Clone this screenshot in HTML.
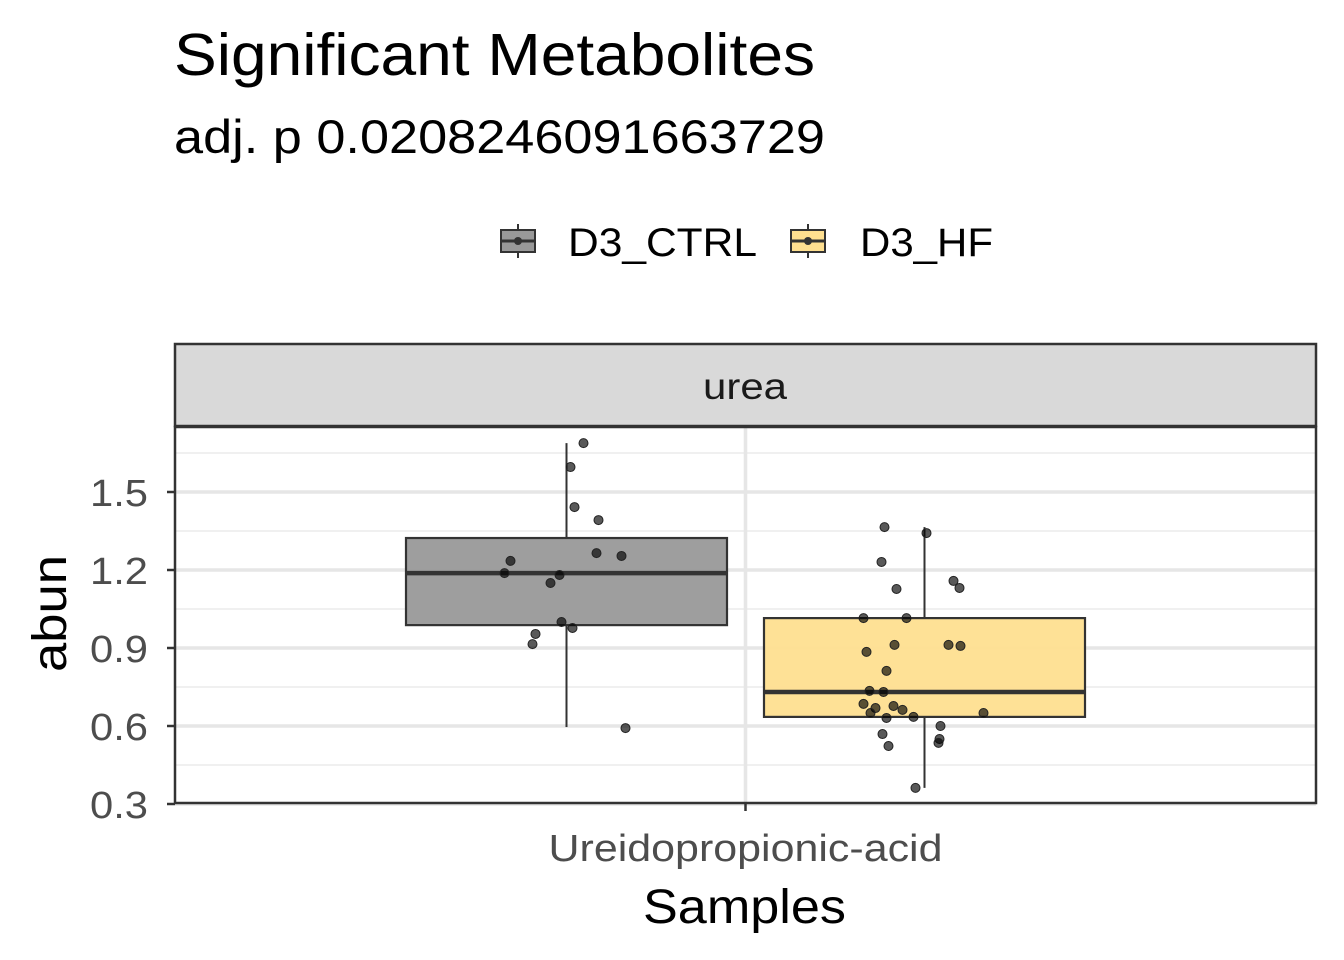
<!DOCTYPE html>
<html><head><meta charset="utf-8">
<style>
html,body{margin:0;padding:0;background:#fff;}
svg{display:block;font-family:"Liberation Sans",Arial,sans-serif;}
</style></head>
<body>
<svg id="chart" width="1344" height="960" viewBox="0 0 1344 960">
  <text x="174" y="75" font-size="59" textLength="641" lengthAdjust="spacingAndGlyphs" fill="#000">Significant Metabolites</text>
  <text x="174" y="153" font-size="47" textLength="651" lengthAdjust="spacingAndGlyphs" fill="#000">adj. p 0.0208246091663729</text>
  <g>
    <g>
      <line x1="518" y1="224" x2="518" y2="258" stroke="#333" stroke-width="2"/>
      <rect x="501" y="230" width="34" height="22" fill="#999" stroke="#333" stroke-width="2"/>
      <line x1="501" y1="241" x2="535" y2="241" stroke="#333" stroke-width="3"/>
      <circle cx="518" cy="241" r="4" fill="#333"/>
      <text x="568" y="256" font-size="40" textLength="189" lengthAdjust="spacingAndGlyphs">D3_CTRL</text>
    </g>
    <g>
      <line x1="808" y1="224" x2="808" y2="258" stroke="#333" stroke-width="2"/>
      <rect x="791" y="230" width="34" height="22" fill="#fedf90" stroke="#333" stroke-width="2"/>
      <line x1="791" y1="241" x2="825" y2="241" stroke="#333" stroke-width="3"/>
      <circle cx="808" cy="241" r="4" fill="#333"/>
      <text x="860" y="256" font-size="40" textLength="133" lengthAdjust="spacingAndGlyphs">D3_HF</text>
    </g>
  </g>
  <rect x="175" y="344" width="1141" height="82" fill="#d9d9d9" stroke="#333" stroke-width="2.5"/>
  <text x="703" y="399" font-size="37" textLength="84" lengthAdjust="spacingAndGlyphs" fill="#1a1a1a">urea</text>
  <g id="grid"></g>
  <g id="marks"></g>
  <rect x="175" y="427" width="1141" height="376" fill="none" stroke="#333" stroke-width="2.5"/>
  <g id="axes"></g>
  <text x="643" y="923" font-size="48" textLength="203" lengthAdjust="spacingAndGlyphs">Samples</text>
  <text transform="translate(66,672) rotate(-90)" font-size="48" textLength="117" lengthAdjust="spacingAndGlyphs">abun</text>
</svg>
<script>
const yTicks = [0.3, 0.6, 0.9, 1.2, 1.5];
const yTickLabels = ["0.3", "0.6", "0.9", "1.2", "1.5"];
const categories = ["Ureidopropionic-acid"];
const groups = ["D3_CTRL", "D3_HF"];
const groupFill = ["#999999", "#fedf90"];
// box stats: [lowWhisker, q1, median, q3, highWhisker]
const ctrlBox = [0.596, 0.988, 1.188, 1.323, 1.688];
const hfBox = [0.362, 0.635, 0.731, 1.015, 1.365];
const ctrlValues = [1.688,1.596,1.442,1.392,1.235,1.265,1.254,1.188,1.181,1.15,1.0,0.977,0.954,0.915,0.592];
const ctrlJitter = [17,4,8,32,-56,30,55,-62,-7,-16,-5,6,-31,-34,59];
const hfValues = [1.365,1.342,1.231,1.127,1.158,1.131,1.015,1.015,0.912,0.912,0.908,0.885,0.812,0.735,0.731,0.685,0.669,0.677,0.662,0.65,0.631,0.635,0.65,0.6,0.569,0.55,0.535,0.523,0.362];
const hfJitter = [-40,2,-43,-28,29,35,-61,-18,-30,24,36,-58,-38,-55,-41,-61,-49,-31,-22,-54,-38,-11,59,16,-42,15,14,-36,-9];

const NS = "http://www.w3.org/2000/svg";
const PL = 175, PR = 1316, PT = 427, PB = 803;
const Y0 = 0.3, YPX = 260, YBASE = 804;
function yScale(v){ return YBASE - (v - Y0) * YPX; }
function xCat(i){ return PL + (PR - PL) * (i + 0.5) / categories.length; }
const dodge = 179, boxW = 321;
function xGroup(ci, gi){ return xCat(ci) + (gi - 0.5) * 2 * dodge; }
function mk(tag, attrs, parent){ const e = document.createElementNS(NS, tag); for (const k in attrs) e.setAttribute(k, attrs[k]); parent.appendChild(e); return e; }

const grid = document.getElementById('grid');
for (let i = 0; i < yTicks.length; i++) {
  if (i < yTicks.length - 1) {
    const m = (yTicks[i] + yTicks[i+1]) / 2;
    const l = mk('line', {x1:PL, x2:PR, y1:yScale(m), y2:yScale(m), stroke:'#ebebeb', 'stroke-width':1.5}, grid);
    
    
  }
  const m2 = yTicks[yTicks.length-1] + 0.15;
  if (i === yTicks.length - 1 && yScale(m2) > PT) {
    const l = mk('line', {x1:PL, x2:PR, y1:yScale(m2), y2:yScale(m2), stroke:'#ebebeb', 'stroke-width':1.5}, grid);
    
    
  }
  const g = mk('line', {x1:PL, x2:PR, y1:yScale(yTicks[i]), y2:yScale(yTicks[i]), stroke:'#e6e6e6', 'stroke-width':3.5}, grid);
  
  
}
for (let c = 0; c < categories.length; c++) {
  const v = mk('line', {x1:xCat(c), x2:xCat(c), y1:PT, y2:PB, stroke:'#e6e6e6', 'stroke-width':3.5}, grid);
  
  
}

const marks = document.getElementById('marks');
const boxes = [ctrlBox, hfBox];
const vals = [ctrlValues, hfValues];
const jit = [ctrlJitter, hfJitter];
for (let gi = 0; gi < groups.length; gi++) {
  const cx = xGroup(0, gi), b = boxes[gi];
  const w1 = mk('line', {x1:cx, x2:cx, y1:yScale(b[3]), y2:yScale(b[4]), stroke:'#333', 'stroke-width':2}, marks);
  
  
  const w2 = mk('line', {x1:cx, x2:cx, y1:yScale(b[1]), y2:yScale(b[0]), stroke:'#333', 'stroke-width':2}, marks);
  
  
  const r = mk('rect', {x:cx - boxW/2, y:yScale(b[3]), width:boxW, height:yScale(b[1]) - yScale(b[3]), fill:groupFill[gi], 'fill-opacity':0.95, stroke:'#333', 'stroke-width':2.2}, marks);
  
  
  const md = mk('line', {x1:cx - boxW/2, x2:cx + boxW/2, y1:yScale(b[2]), y2:yScale(b[2]), stroke:'#333', 'stroke-width':4.5}, marks);
  
  
  for (let i = 0; i < vals[gi].length; i++) {
    const p = mk('circle', {cx:cx + jit[gi][i], cy:yScale(vals[gi][i]), r:4.5, fill:'#000', 'fill-opacity':0.65, stroke:'#222', 'stroke-width':1}, marks);
    
    
  }
}

const axes = document.getElementById('axes');
for (let i = 0; i < yTicks.length; i++) {
  const y = yScale(yTicks[i]);
  const t = mk('line', {x1:PL - 8, x2:PL, y1:y, y2:y, stroke:'#333', 'stroke-width':2.5}, axes);
  
  
  const tx = mk('text', {x:90, y:y + 14, 'font-size':38, textLength:58, lengthAdjust:'spacingAndGlyphs', fill:'#4d4d4d'}, axes);
  tx.textContent = yTickLabels[i];
  
  
}
for (let c = 0; c < categories.length; c++) {
  const x = xCat(c);
  const t = mk('line', {x1:x, x2:x, y1:PB, y2:PB + 8, stroke:'#333', 'stroke-width':2.5}, axes);
  
  
  const tx = mk('text', {x:x - 197, y:PB + 58, 'font-size':38, textLength:394, lengthAdjust:'spacingAndGlyphs', fill:'#4d4d4d'}, axes);
  tx.textContent = categories[c];
  
  
}
</script>
</body></html>
